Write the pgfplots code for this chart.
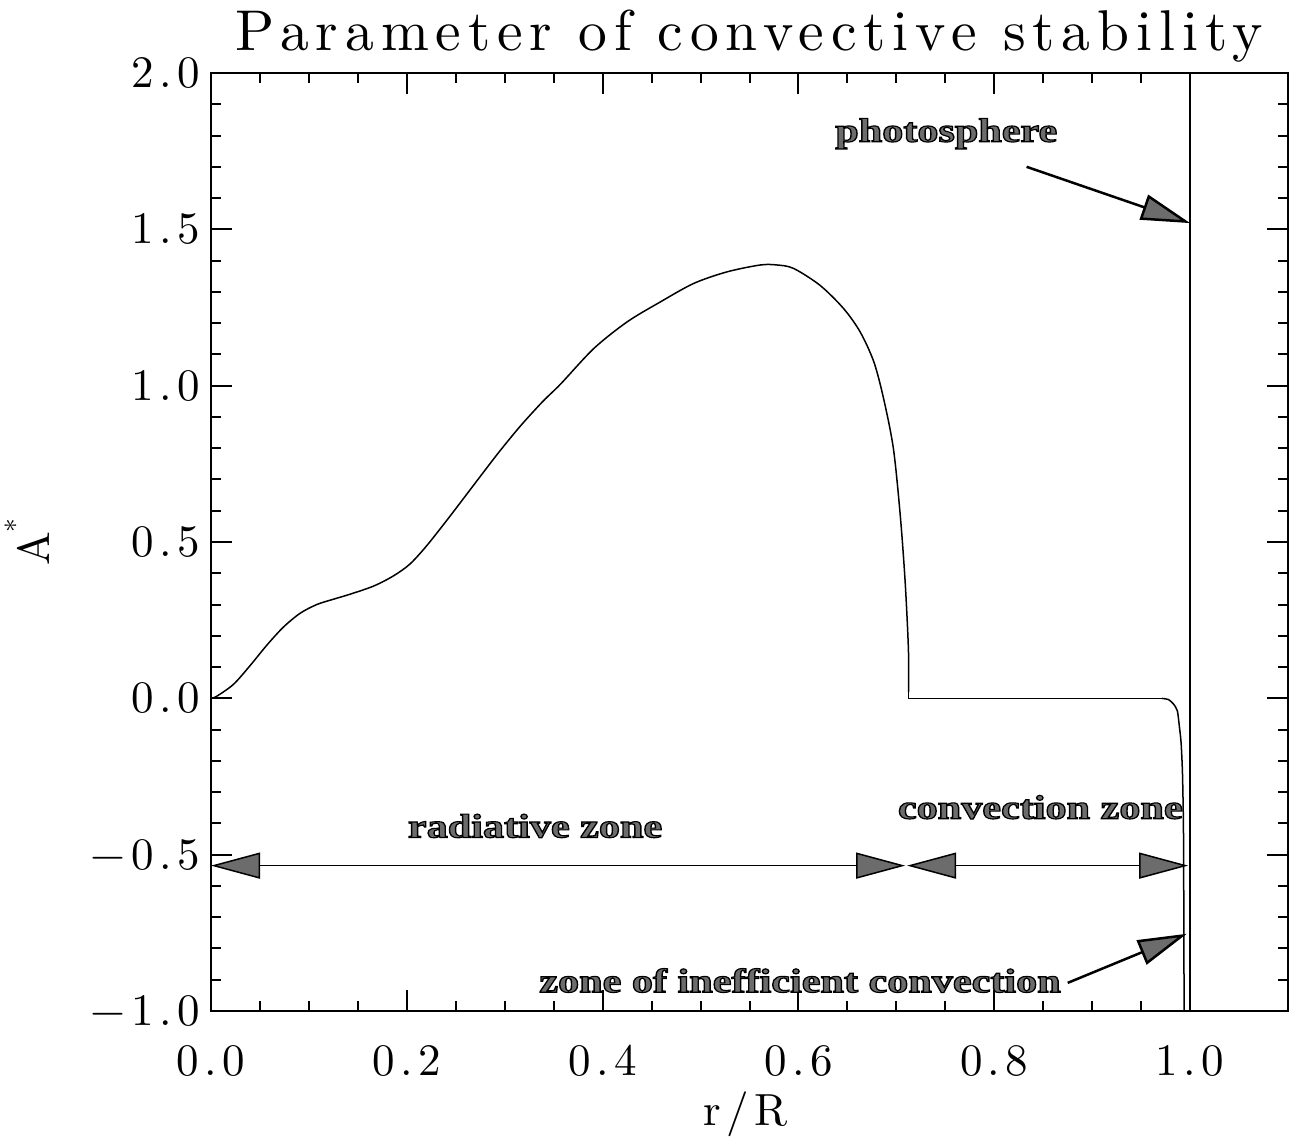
\documentclass[border=0pt]{standalone}
\usepackage{fontspec}
\usepackage{pgfplots}
\pgfplotsset{compat=1.18}
\usetikzlibrary{arrows.meta}
\newfontfamily\annot{Liberation Serif}
\newfontfamily\idlf{lmroman10-regular.otf}[LetterSpace=12]
\newcommand{\idl}[1]{\idlf\fontsize{#1}{#1}\selectfont}
\definecolor{fillgray}{RGB}{108,108,108}
\newcommand{\outl}[1]{\special{pdf:literal direct 2 Tr 0.45 w 0 0 0 RG}#1\special{pdf:literal direct 0 Tr}}
\tikzset{
  annot/.style={font=\annot\bfseries\fontsize{13.5}{14}\selectfont, text=fillgray, xscale=1.25, inner sep=0pt, anchor=base},
  hd/.style={>={Triangle[length=19.6pt,width=10.4pt,fill=fillgray]}}
}
\begin{document}
\begin{tikzpicture}
\begin{axis}[
  width=430.8pt, height=375.2pt, scale only axis,
  xmin=0, xmax=1.1, ymin=-1, ymax=2,
  xtick={0,0.2,0.4,0.6,0.8,1.0},
  xticklabels={0.0,0.2,0.4,0.6,0.8,1.0},
  minor x tick num=3,
  ytick={-1,-0.5,0,0.5,1,1.5,2},
  yticklabels={−1.0,−0.5,0.0,0.5,1.0,1.5,2.0},
  minor y tick num=4,
  tick align=inside,
  major tick length=8.4pt, minor tick length=4pt,
  every tick/.style={black, line width=0.8pt},
  axis line style={line width=1pt},
  ticklabel style={font=\idl{18}},
  xticklabel style={anchor=base, yshift=-25.6pt},
  yticklabel style={anchor=east, xshift=-1pt},
  title={Parameter of convective stability},
  title style={font=\idl{23}, at={(0.5,1)}, anchor=base, yshift=3.2pt},
  xlabel={r/R},
  xlabel style={font=\idl{18}, at={(axis description cs:0.496,0)}, anchor=base, yshift=-45.6pt},
  ylabel={A\raisebox{0.55em}{\fontsize{11}{11}\selectfont *}},
  ylabel style={font=\idl{18}, at={(axis description cs:-0.1495,0.5)}, anchor=base},
]
\addplot[black, line width=0.6pt, smooth, tension=0.5] coordinates {
(0,0) (0.006,0.007) (0.023,0.045) (0.040,0.105) (0.057,0.170) (0.074,0.228)
(0.091,0.272) (0.108,0.300) (0.125,0.317) (0.142,0.333) (0.166,0.359)
(0.186,0.391) (0.203,0.429) (0.220,0.487) (0.241,0.570) (0.261,0.652)
(0.278,0.722) (0.295,0.791) (0.316,0.871) (0.339,0.950) (0.357,1.005)
(0.391,1.119) (0.425,1.204) (0.459,1.268) (0.493,1.327) (0.527,1.364)
(0.561,1.386) (0.578,1.386) (0.595,1.375) (0.622,1.321) (0.646,1.247)
(0.663,1.172) (0.677,1.076) (0.687,0.958) (0.697,0.798) (0.704,0.584)
(0.709,0.371) (0.7123,0.157) (0.7125,0.02)
};
\addplot[black, line width=0.6pt] coordinates {
(0.7125,0.02) (0.7125,0) (0.971,0)
};
\addplot[black, line width=0.6pt, smooth, tension=0.4] coordinates {
(0.971,0) (0.9780,-0.004) (0.9830,-0.018) (0.987,-0.040) (0.989,-0.089) (0.9908,-0.142) (0.9922,-0.238)
(0.9932,-0.41) (0.9936,-0.7) (0.9939,-1.05)
};
\addplot[black, line width=0.8pt] coordinates {(1.0,-1) (1.0,2)};
% annotations
\draw[hd, line width=0.6pt, <->] (axis cs:0,-0.535) -- (axis cs:0.709,-0.535);
\draw[hd, line width=0.6pt, <->] (axis cs:0.711,-0.535) -- (axis cs:0.998,-0.535);
\draw[hd, line width=1pt, ->] (axis cs:0.833,1.70) -- (axis cs:1.0,1.52);
\draw[hd, line width=1pt, ->] (axis cs:0.875,-0.91) -- (axis cs:0.9966,-0.753);
\node[annot] at (axis cs:0.751,1.78) {\outl{photosphere}};
\node[annot] at (axis cs:0.331,-0.445) {\outl{radiative zone}};
\node[annot] at (axis cs:0.847,-0.385) {\outl{convection zone}};
\node[annot] at (axis cs:0.6016,-0.94) {\outl{zone of inefficient convection}};
\end{axis}
\pgfresetboundingbox
\path[use as bounding box] ([shift={(-84.4pt,-51.6pt)}]current axis.south west) rectangle ([shift={(431.2pt,404.4pt)}]current axis.south west);
\end{tikzpicture}
\end{document}
